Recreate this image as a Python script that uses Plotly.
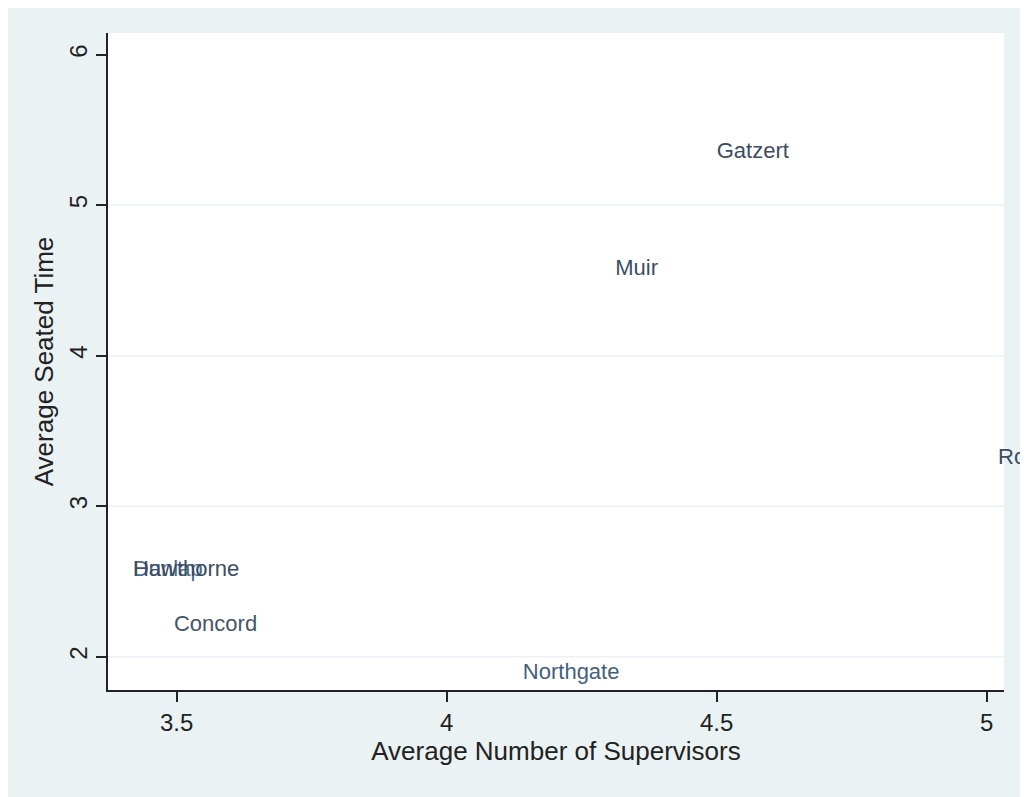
import plotly.graph_objects as go

# school labels (markers hidden, label only, Stata mlabel style)
schools = ["Gatzert", "Muir", "Roxhill", "Dunlap", "Hawthorne", "Concord", "Northgate"]
avg_supervisors = [4.50, 4.312, 5.021, 3.419, 3.419, 3.495, 4.141]
avg_seated = [5.35, 4.57, 3.32, 2.576, 2.576, 2.21, 1.89]
label_colors = ["#3b4d63", "#3b4d63", "#3b4d63", "#4a6a8c", "#3b4d63", "#46556a", "#44607e"]

x_ticks = [3.5, 4, 4.5, 5]
x_ticktext = ["3.5", "4", "4.5", "5"]
y_ticks = [2, 3, 4, 5, 6]
y_grid = [2, 3, 4, 5]

bg = "#eaf2f3"

fig = go.Figure()

#### grid lines (Stata draws none at the top tick)
for g in y_grid:
    fig.add_hline(y=g, line_color=bg, line_width=1.5, layer="below")

fig.add_trace(
    go.Scatter(
        x=avg_supervisors,
        y=avg_seated,
        mode="text",
        text=schools,
        textposition="middle right",
        textfont=dict(family="Liberation Sans, Arial", size=22, color=label_colors),
        cliponaxis=False,
        hoverinfo="skip",
        showlegend=False
    )
)

fig.update_xaxes(
    range=[3.3728, 5.032],
    tickvals=x_ticks,
    ticktext=x_ticktext,
    ticks="outside",
    ticklen=10,
    tickwidth=1.5,
    tickcolor="#222",
    showline=True,
    linecolor="#222",
    linewidth=1.5,
    showgrid=False,
    zeroline=False,
    tickfont=dict(size=24, color="#222"),
    title=dict(text="Average Number of Supervisors", font=dict(size=26, color="#222"), standoff=0)
)

fig.update_yaxes(
    range=[1.779, 6.144],
    tickvals=y_ticks,
    ticks="outside",
    ticklen=10,
    tickwidth=1.5,
    tickcolor="#222",
    tickangle=-90,
    showline=True,
    linecolor="#222",
    linewidth=1.5,
    showgrid=False,
    zeroline=False,
    tickfont=dict(size=24, color="#222"),
    title=dict(text="Average Seated Time", font=dict(size=26, color="#222"), standoff=4)
)

fig.update_layout(
    width=1028,
    height=797,
    margin=dict(l=100, r=32, t=25, b=115),
    paper_bgcolor=bg,
    plot_bgcolor="white",
    font=dict(family="Liberation Sans, Arial")
)

fig.write_html("out.html")
